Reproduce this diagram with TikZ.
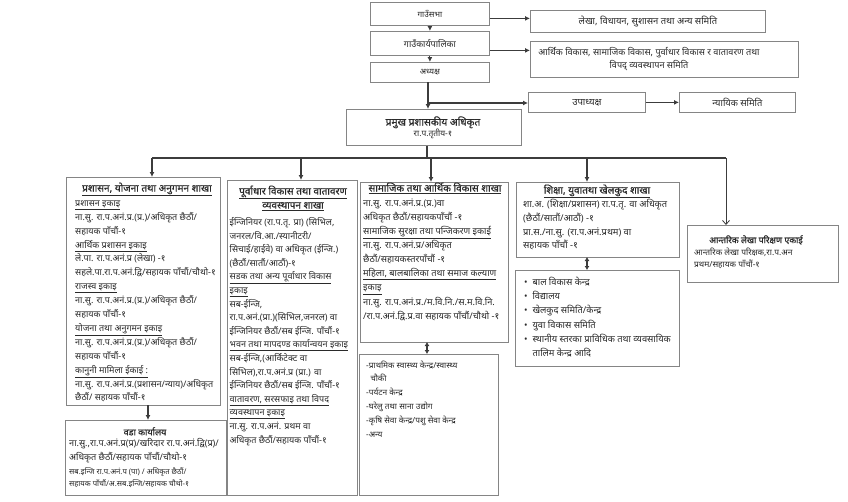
\documentclass[tikz,border=0pt]{standalone}
\usepackage{fontspec}
\newfontfamily\deva[Script=Devanagari]{Noto Sans}
\newfontfamily\devab[Script=Devanagari,FakeBold=0.7]{Noto Sans}
\usetikzlibrary{arrows.meta}
\definecolor{boxgray}{HTML}{858585}
\definecolor{linegray}{HTML}{3C3C3C}
\definecolor{txtcol}{HTML}{2A2A2A}
\newcommand\udl[1]{\underline{#1}}
\newcommand\fsz[2]{\fontsize{#1}{#2}\selectfont}
\begin{document}
\begin{tikzpicture}[x=1pt,y=-1pt,
  box/.style={draw=boxgray,line width=0.8pt,inner sep=0pt,anchor=north west,fill=white,text=txtcol,font=\deva\fsz{8.2}{13},align=center},
  conn/.style={draw=linegray,line width=1.1pt},
  arr/.style={conn,-{Latex[length=5pt,width=5pt]}},
  oarr/.style={conn,line width=0.8pt,-{Straight Barb[length=4pt,width=7pt]}},
  darr/.style={conn,{Latex[length=4pt,width=5pt]}-{Latex[length=4pt,width=5pt]}},
  body/.style={anchor=north west,inner sep=0pt,align=left,text=txtcol},
  ttl/.style={anchor=base,inner sep=0pt,text=txtcol,font=\devab\fsz{10}{13.9}},
  lbl/.style={anchor=base,inner sep=0pt,text=txtcol,font=\deva\fsz{8.4}{12}}
]
\useasboundingbox[fill=white] (0,0) rectangle (848,501);

% top chain
\node[box,minimum width=119pt,minimum height=23pt] (gs) at (370,2) {गाउँसभा};
\node[box,minimum width=235pt,minimum height=22pt,font=\deva\fsz{9.4}{13}] (lekha) at (530,10) {लेखा, विधायन, सुशासन तथा अन्य समिति};
\node[box,minimum width=119pt,minimum height=24pt,font=\deva\fsz{9}{13}] (gk) at (370,31) {गाउँकार्यपालिका};
\node[box,minimum width=268pt,minimum height=36pt] (arthik) at (530,41) {};
\node[body,anchor=north,align=center,font=\deva\fsz{9.1}{13}] (arthikt) at (649,46.1) {\strut आर्थिक विकास, सामाजिक विकास, पुर्वाधार विकास र वातावरण तथा\\ विपद् व्यवस्थापन समिति};
\node[box,minimum width=119pt,minimum height=20pt] (adh) at (370,62) {अध्यक्ष};
\node[box,minimum width=117pt,minimum height=20pt,font=\deva\fsz{9.6}{13}] (upa) at (528,92) {उपाध्यक्ष};
\node[box,minimum width=116pt,minimum height=20pt,font=\deva\fsz{9.3}{13}] (nyay) at (679,92) {न्यायिक समिति};
\node[box,minimum width=175pt,minimum height=36pt] (pr) at (346,109) {};
\node[ttl,font=\devab\fsz{10.2}{13}] (prt) at (433,125.5) {प्रमुख प्रशासकीय अधिकृत};
\node[lbl] (prs) at (433,136.3) {रा.प.तृतीय-१};

\draw[arr] (gs.south) -- (gk.north);
\draw[arr] (gk.south) -- (adh.north);
\draw[arr] ([yshift=-4.5pt]gs.east) -- ([yshift=-4.5pt]gs.east -| lekha.west);
\draw[arr] ([yshift=-7pt]gk.east) -- ([yshift=-7pt]gk.east -| arthik.west);
\coordinate (ax) at (428,82);
\draw[arr] (ax) -- (ax |- pr.north);
\coordinate (br) at (428,103);
\draw[arr] (br) -- (br -| upa.west);
\draw[arr] (upa.east) -- (nyay.west);

% main boxes
\node[box,minimum width=154pt,minimum height=228pt] (b1) at (66,177) {};
\node[box,minimum width=161pt,minimum height=75pt] (ward) at (65,420) {};
\node[box,minimum width=130pt,minimum height=315pt] (b2) at (227,180) {};
\node[box,minimum width=148pt,minimum height=160pt] (b3) at (360,182) {};
\node[box,minimum width=139pt,minimum height=141pt] (b3l) at (359,354) {};
\node[box,minimum width=163pt,minimum height=75pt] (b4) at (516,182) {};
\node[box,minimum width=164pt,minimum height=96pt] (b4l) at (515,270) {};
\node[box,minimum width=151pt,minimum height=57pt] (b5) at (687,225) {};

% distribution
\coordinate (dm) at (427,158);
\draw[conn] (pr.south -| dm) -- (dm);
\coordinate (d1) at (152,158);
\coordinate (d2) at (301,158);
\coordinate (d3) at (431,158);
\coordinate (d4) at (587,158);
\coordinate (d5) at (726,158);
\draw[conn] (d1) -- (d5);
\draw[arr] (d1) -- (d1 |- b1.north);
\draw[arr] (d2) -- (d2 |- b2.north);
\draw[arr] (d3) -- (d3 |- b3.north);
\draw[arr] (d4) -- (d4 |- b4.north);
\draw[oarr] (d5) -- (d5 |- b5.north);
\coordinate (w1) at (148,405);
\draw[arr] (w1) -- (w1 |- ward.north);
\coordinate (w3) at (427,342);
\draw[darr] (w3) -- (w3 |- b3l.north);
\coordinate (w4) at (587,257);
\draw[darr] (w4) -- (w4 |- b4l.north);

% box 1 text
\node[ttl] (t1) at (147,191.5) {\udl{प्रशासन, योजना तथा अनुगमन शाखा}};
\node[body,font=\deva\fsz{9}{13.9}] (x1) at (75,196.4) {\strut\udl{प्रशासन इकाइ}\\
ना.सु. रा.प.अनं.प्र.(प्र.)/अधिकृत छैठौं/\\
सहायक पाँचौं-१\\
\udl{आर्थिक प्रशासन इकाइ}\\
ले.पा. रा.प.अनं.प्र (लेखा) -१\\
सहले.पा.रा.प.अनं.द्वि/सहायक पाँचौं/चौथो-१\\
\udl{राजस्व इकाइ}\\
ना.सु. रा.प.अनं.प्र.(प्र.)/अधिकृत छैठौं/\\
सहायक पाँचौं-१\\
\udl{योजना तथा अनुगमन इकाइ}\\
ना.सु. रा.प.अनं.प्र.(प्र.)/अधिकृत छैठौं/\\
सहायक पाँचौं-१\\
\udl{कानुनी मामिला ईकाई :}\\
ना.सु. रा.प.अनं.प्र.(प्रशासन/न्याय)/अधिकृत\\
छैठौं/ सहायक पाँचौं-१};

% ward
\node[ttl,font=\devab\fsz{9}{13}] (tw) at (145,435.3) {वडा कार्यालय};
\node[body,font=\deva\fsz{9.1}{13.5}] (xw) at (69,437.2) {\strut ना.सु.,रा.प.अनं.प्र(प्र)/खरिदार रा.प.अनं.द्वि(प्र)/\\
अधिकृत छैठौं/सहायक पाँचौं/चौथो-१};
\node[body,font=\deva\fsz{7.7}{11.5}] (xw2) at (69,466.6) {\strut सब.इन्जि रा.प.अनं.प (पा) / अधिकृत छैठौं/\\
सहायक पाँचौं/अ.सब.इन्जि/सहायक चौथो-१};

% box 2
\node[ttl] (t2a) at (293,194.5) {\udl{पूर्वाधार विकास तथा वातावरण}};
\node[ttl] (t2b) at (293,208.5) {\udl{व्यवस्थापन शाखा}};
\node[body,font=\deva\fsz{9}{13.6}] (x2) at (229.5,215.7) {\strut ईन्जिनियर (रा.प.तृ. प्रा) (सिभिल,\\
जनरल/वि.आ./स्यानीटरी/\\
सिचाई/हाईवे) वा अधिकृत (ईन्जि.)\\
(छैठौं/सातौं/आठौं)-१\\
\udl{सडक तथा अन्य पूर्वाधार विकास}\\
\udl{इकाइ}\\
सब-ईन्जि,\\
रा.प.अनं.(प्रा.)(सिभिल,जनरल) वा\\
ईन्जिनियर छैठौं/सब ईन्जि. पाँचौं-१\\
\udl{भवन तथा मापदण्ड कार्यान्वयन इकाइ}\\
सब-ईन्जि,(आर्किटेक्ट वा\\
सिभिल),रा.प.अनं.प्र (प्रा.) वा\\
ईन्जिनियर छैठौं/सब ईन्जि. पाँचौं-१\\
\udl{वातावरण, सरसफाइ तथा विपद}\\
\udl{व्यवस्थापन इकाइ}\\
ना.सु. रा.प.अनं. प्रथम वा\\
अधिकृत छैठौं/सहायक पाँचौं-१};

% box 3
\node[ttl] (t3) at (435,191.5) {\udl{सामाजिक तथा आर्थिक विकास शाखा}};
\node[body,font=\deva\fsz{9.2}{14.1}] (x3) at (363,196.3) {\strut ना.सु. रा.प.अनं.प्र.(प्र.)वा\\
अधिकृत छैठौं/सहायकपाँचौं -१\\
\udl{सामाजिक सुरक्षा तथा पन्जिकरण इकाई}\\
ना.सु. रा.प.अनं.प्र/अधिकृत\\
छैठौं/सहायकस्तरपाँचौं -१\\
\udl{महिला, बालबालिका तथा समाज कल्याण}\\
\udl{इकाइ}\\
ना.सु. रा.प.अनं.प्र./म.वि.नि./स.म.वि.नि.\\
/रा.प.अनं.द्वि.प्र.वा सहायक पाँचौं/चौथो -१};
\node[body,font=\deva\fsz{8.3}{13.8}] (x3l) at (366,358.2) {\strut -प्राथमिक स्वास्थ्य केन्द्र/स्वास्थ्य\\
\ \ चौकी\\
-पर्यटन केन्द्र\\
-घरेलु तथा साना उद्योग\\
-कृषि सेवा केन्द्र/पशु सेवा केन्द्र\\
-अन्य};

% box 4
\node[ttl] (t4) at (597,193.5) {\udl{शिक्षा, युवातथा खेलकुद शाखा}};
\node[body,font=\deva\fsz{9.3}{13.8}] (x4) at (523,197.6) {\strut शा.अ. (शिक्षा/प्रशासन) रा.प.तृ. वा अधिकृत\\
(छैठौं/सातौं/आठौं) -१\\
प्रा.स./ना.सु. (रा.प.अनं.प्रथम) वा\\
सहायक पाँचौं -१};
\node[body,font=\deva\fsz{9.3}{14.2}] (x4l) at (524,275.3) {\strut •\ \ बाल विकास केन्द्र\\
•\ \ विद्यालय\\
•\ \ खेलकुद समिति/केन्द्र\\
•\ \ युवा विकास समिति\\
•\ \ स्थानीय स्तरका प्राविधिक तथा व्यवसायिक\\
\phantom{•}\ \ तालिम केन्द्र आदि};

% box 5
\node[ttl,font=\devab\fsz{8.8}{13}] (t5) at (756,243.2) {आन्तरिक लेखा परिक्षण एकाई};
\node[body,font=\deva\fsz{8.4}{12.3}] (x5) at (694,246.3) {\strut आन्तरिक लेखा परिक्षक,रा.प.अन\\
प्रथम/सहायक पाँचौं-१};
\end{tikzpicture}
\end{document}
